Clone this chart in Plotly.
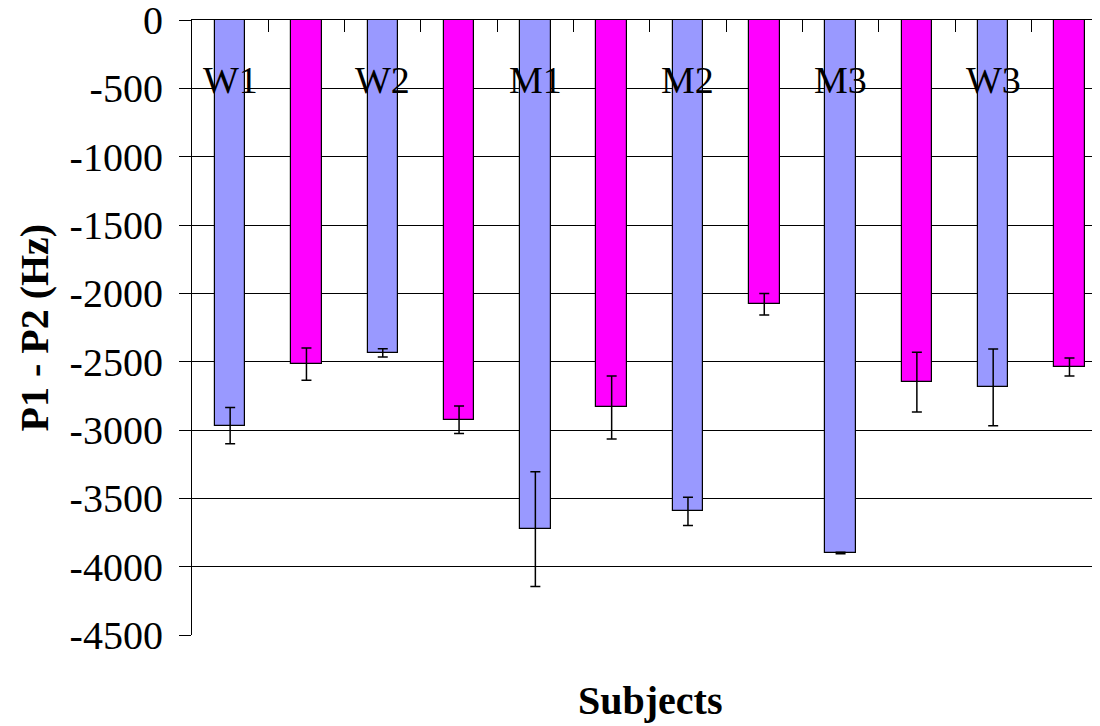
import plotly.graph_objects as go

subjects = ["W1", "W2", "M1", "M2", "M3", "W3"]
series_a = [-2968, -2436, -3726, -3595, -3900, -2688]
err_a = [132, 30, 420, 103, 5, 281]
series_b = [-2518, -2925, -2835, -2080, -2650, -2539]
err_b = [118, 101, 230, 78, 219, 66]
y_ticks = [0, -500, -1000, -1500, -2000, -2500, -3000, -3500, -4000, -4500]

xa = [2 * i for i in range(len(subjects))]
xb = [2 * i + 1 for i in range(len(subjects))]

FONT = "Liberation Serif"

fig = go.Figure()
fig.add_trace(go.Bar(
    x=xa, y=series_a, width=0.4,
    marker=dict(color="#9999FF", line=dict(color="black", width=1.2)),
    error_y=dict(type="data", array=err_a, visible=True, color="black", thickness=1.5, width=5),
    showlegend=False, cliponaxis=False,
))
fig.add_trace(go.Bar(
    x=xb, y=series_b, width=0.4,
    marker=dict(color="#FF00FF", line=dict(color="black", width=1.2)),
    error_y=dict(type="data", array=err_b, visible=True, color="black", thickness=1.5, width=5),
    showlegend=False, cliponaxis=False,
))

annotations = []
for i, s in enumerate(subjects):
    annotations.append(dict(
        x=xa[i], y=0.903, xref="x", yref="paper", text=s, showarrow=False,
        font=dict(family=FONT, size=38, color="black"), xanchor="center", yanchor="middle",
    ))
annotations.append(dict(
    x=-0.174, y=0.5, xref="paper", yref="paper", text="<b>P1 - P2 (Hz)</b>", showarrow=False,
    textangle=-90, font=dict(family=FONT, size=40, color="black"), xanchor="center", yanchor="middle",
    borderpad=0,
))
annotations.append(dict(
    x=0.504, y=-0.107, xref="paper", yref="paper", text="<b>Subjects</b>", showarrow=False,
    font=dict(family=FONT, size=40, color="black"), xanchor="center", yanchor="middle",
))

fig.update_layout(
    width=1092, height=718,
    margin=dict(l=184, r=0, t=12, b=91, autoexpand=False),
    paper_bgcolor="white", plot_bgcolor="white",
    font=dict(family=FONT, color="black"),
    annotations=annotations,
    bargap=0,
    xaxis=dict(
        range=[-0.5, 11.4], side="top", showline=True, linecolor="black", linewidth=1.2,
        tickmode="linear", tick0=-0.5, dtick=1, ticks="inside", ticklen=12, tickcolor="black",
        tickwidth=1.2, showticklabels=False, showgrid=False, zeroline=False, automargin=False,
    ),
    yaxis=dict(
        range=[-4500, 0], tickvals=y_ticks, ticktext=[str(v) for v in y_ticks],
        showgrid=True, gridcolor="black", gridwidth=1, zeroline=False,
        showline=True, linecolor="black", linewidth=1.2, automargin=False,
        ticks="outside", ticklen=12, tickcolor="black", tickwidth=1.2,
        tickfont=dict(family=FONT, size=40, color="black"),
        ticklabeloverflow="allow", ticklabelstandoff=8,
    ),
)

fig.write_html("out.html")
